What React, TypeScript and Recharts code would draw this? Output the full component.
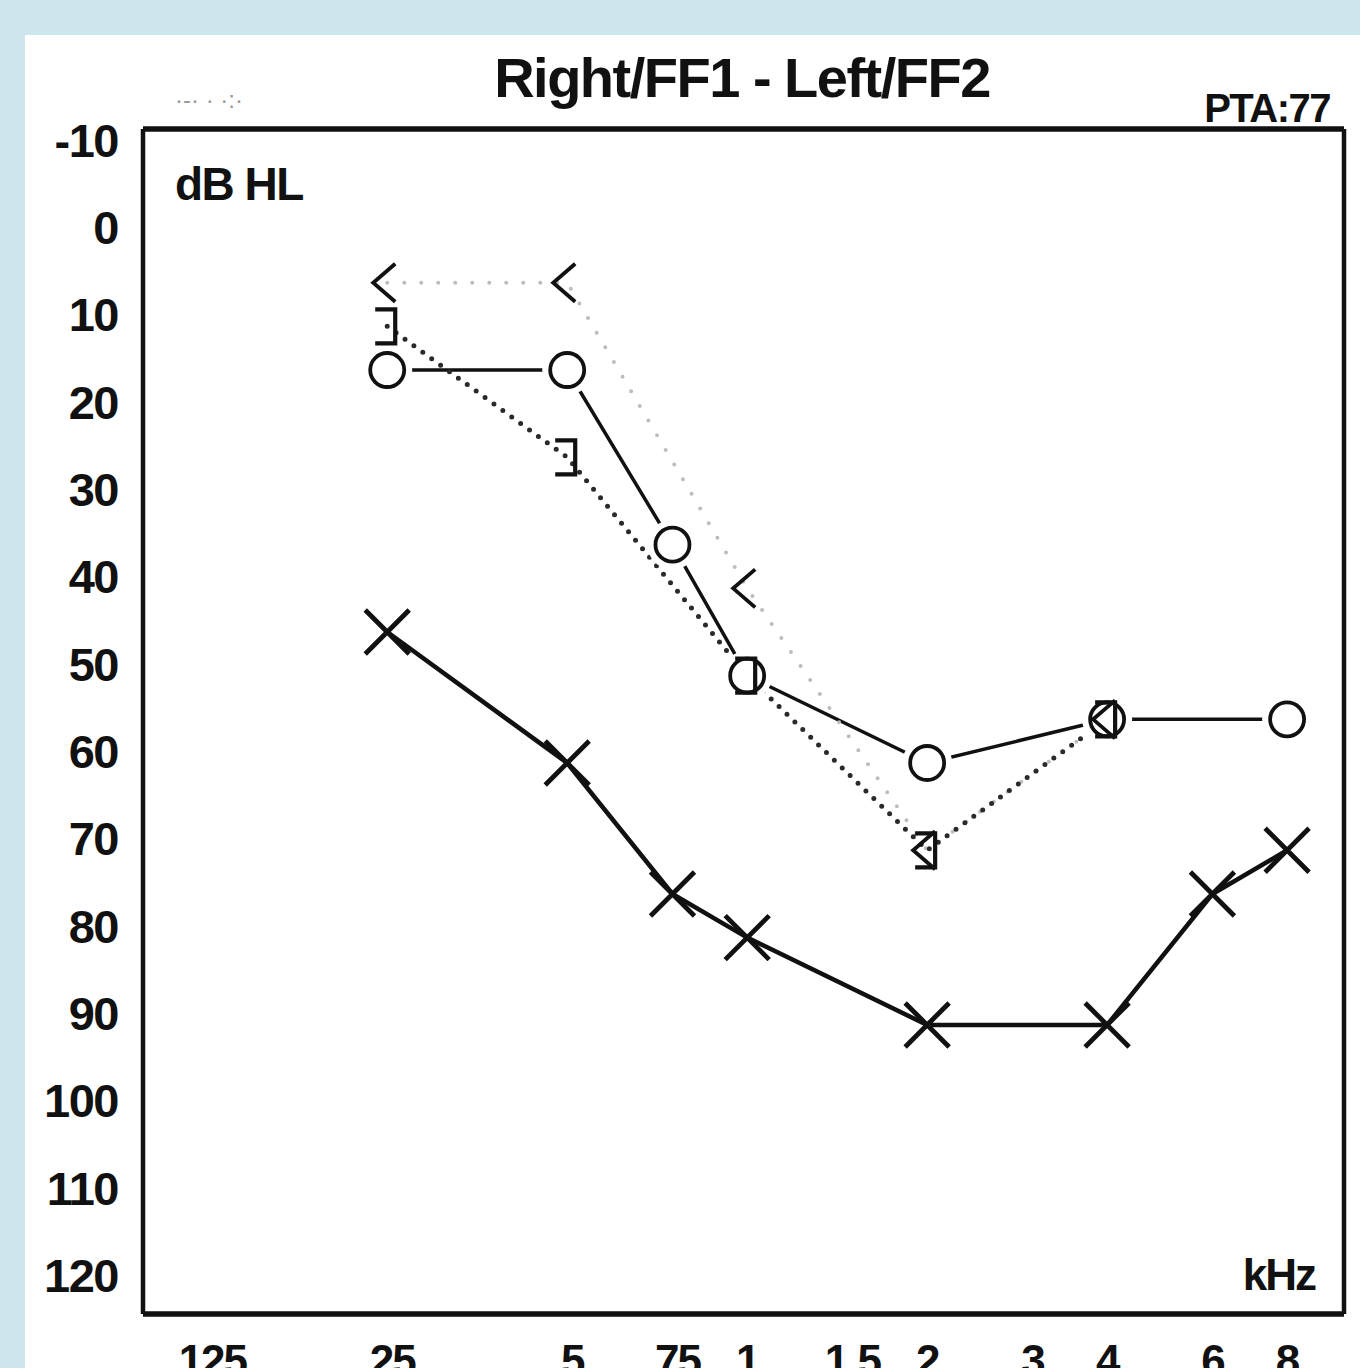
import React from "react";
import { LineChart, Line, XAxis, YAxis, ReferenceLine } from "recharts";

// ---- data ----
const FREQ_TICKS = [0.125, 0.25, 0.5, 0.75, 1, 1.5, 2, 3, 4, 6, 8];
const FREQ_LABELS = [".125", ".25", ".5", ".75", "1", "1.5", "2", "3", "4", "6", "8"];
const DB_TICKS = [-10, 0, 10, 20, 30, 40, 50, 60, 70, 80, 90, 100, 110, 120];

const rightAirFreq = [0.25, 0.5, 0.75, 1, 2, 4, 8];
const rightAirDb = [15, 15, 35, 50, 60, 55, 55];

const leftAirFreq = [0.25, 0.5, 0.75, 1, 2, 4, 6, 8];
const leftAirDb = [45, 60, 75, 80, 90, 90, 75, 70];

const boneMaskedFreq = [0.25, 0.5, 1, 2, 4];
const boneMaskedDb = [10, 25, 50, 70, 55];

const boneUnmaskedFreq = [0.25, 0.5, 1, 2, 4];
const boneUnmaskedDb = [5, 5, 40, 70, 55];

const TITLE = "Right/FF1 - Left/FF2";
const PTA = "PTA:77";
const Y_UNIT = "dB HL";
const X_UNIT = "kHz";

const X_DOMAIN = [0.0976, 9.96];
const Y_DOMAIN = [-12.6, 123.1];

const toRows = (f: number[], v: number[]) => f.map((x, i) => ({ f: x, db: v[i] }));

const rightAir = toRows(rightAirFreq, rightAirDb);
const leftAir = toRows(leftAirFreq, leftAirDb);
const boneMasked = toRows(boneMaskedFreq, boneMaskedDb);
const boneUnmasked = toRows(boneUnmaskedFreq, boneUnmaskedDb);

const FONT = "'Liberation Sans', Arial, Helvetica, sans-serif";
const INK = "#111";

// ---- markers ----
const CircleDot = (p: any) => {
  const { cx, cy, index } = p;
  if (cx == null || cy == null) return <g key={`c${index}`} />;
  return (
    <g key={`c${index}`}>
      <circle cx={cx} cy={cy} r={25} fill="#fff" />
      <circle cx={cx} cy={cy} r={17} fill="#fff" stroke={INK} strokeWidth={3.8} />
    </g>
  );
};

const CrossDot = (p: any) => {
  const { cx, cy, index } = p;
  if (cx == null || cy == null) return <g key={`x${index}`} />;
  const s = 22;
  return (
    <path
      key={`x${index}`}
      d={`M${cx - s},${cy - s}L${cx + s},${cy + s}M${cx - s},${cy + s}L${cx + s},${cy - s}`}
      stroke={INK}
      strokeWidth={4.8}
      fill="none"
    />
  );
};

const BracketDot = (p: any) => {
  const { cx, cy, index } = p;
  if (cx == null || cy == null) return <g key={`b${index}`} />;
  return (
    <path
      key={`b${index}`}
      d={`M${cx - 12},${cy - 17}H${cx + 8}V${cy + 17}H${cx - 12}`}
      stroke={INK}
      strokeWidth={4.2}
      fill="none"
    />
  );
};

const LessDot = (p: any) => {
  const { cx, cy, index } = p;
  if (cx == null || cy == null) return <g key={`l${index}`} />;
  return (
    <path
      key={`l${index}`}
      d={`M${cx + 8},${cy - 19}L${cx - 14},${cy}L${cx + 8},${cy + 19}`}
      stroke={INK}
      strokeWidth={3.8}
      fill="none"
    />
  );
};

// ---- ticks ----
const YTick = (p: any) => {
  const { x, y, payload } = p;
  return (
    <text
      x={x}
      y={y + 5}
      textAnchor="end"
      fontFamily={FONT}
      fontWeight="bold"
      fontSize={47}
      letterSpacing={-1.5}
      fill={INK}
    >
      {payload.value}
    </text>
  );
};

const XTick = (p: any) => {
  const { x, y, payload } = p;
  const i = FREQ_TICKS.indexOf(payload.value);
  return (
    <text
      x={x}
      y={y + 62}
      textAnchor="middle"
      fontFamily={FONT}
      fontWeight="bold"
      fontSize={44}
      letterSpacing={-2}
      fill={INK}
    >
      {i >= 0 ? FREQ_LABELS[i] : payload.value}
    </text>
  );
};

export default function App() {
  return (
    <div
      style={{
        position: "absolute",
        left: 0,
        top: 0,
        width: 1360,
        height: 1368,
        background: "#cde5ec",
        overflow: "hidden",
      }}
    >
      <div
        style={{
          position: "absolute",
          left: 25,
          top: 35,
          width: 1335,
          height: 1333,
          background: "#ffffff",
        }}
      />
      <div style={{ position: "absolute", left: 0, top: 0 }}>
        <LineChart
          width={1360}
          height={1368}
          margin={{ top: 129, right: 16, bottom: 0, left: 0 }}
        >
          <XAxis
            xAxisId="b"
            type="number"
            dataKey="f"
            scale="log"
            domain={X_DOMAIN}
            allowDataOverflow
            ticks={FREQ_TICKS}
            interval={0}
            height={54}
            tickSize={0}
            tickMargin={0}
            tickLine={false}
            axisLine={{ stroke: INK, strokeWidth: 5.5 }}
            tick={<XTick />}
          />
          <YAxis
            yAxisId="l"
            type="number"
            dataKey="db"
            reversed
            domain={Y_DOMAIN}
            allowDataOverflow
            ticks={DB_TICKS}
            interval={0}
            width={143}
            tickSize={0}
            tickMargin={25}
            tickLine={false}
            axisLine={{ stroke: INK, strokeWidth: 4.5 }}
            tick={<YTick />}
          />
          <ReferenceLine
            xAxisId="b"
            yAxisId="l"
            y={Y_DOMAIN[0]}
            stroke={INK}
            strokeWidth={5.5}
            ifOverflow="visible"
          />
          <ReferenceLine
            xAxisId="b"
            yAxisId="l"
            x={X_DOMAIN[1]}
            stroke={INK}
            strokeWidth={4.5}
            ifOverflow="visible"
          />

          <Line
            xAxisId="b"
            yAxisId="l"
            data={rightAir}
            dataKey="db"
            stroke={INK}
            strokeWidth={3.5}
            dot={CircleDot}
            activeDot={false}
            isAnimationActive={false}
            type="linear"
          />
          <Line
            xAxisId="b"
            yAxisId="l"
            data={leftAir}
            dataKey="db"
            stroke={INK}
            strokeWidth={4.5}
            dot={CrossDot}
            activeDot={false}
            isAnimationActive={false}
            type="linear"
          />
          <Line
            xAxisId="b"
            yAxisId="l"
            data={boneUnmasked}
            dataKey="db"
            stroke="#bdbdbd"
            strokeWidth={4}
            strokeDasharray="0 17"
            strokeLinecap="round"
            dot={LessDot}
            activeDot={false}
            isAnimationActive={false}
            type="linear"
          />
          <Line
            xAxisId="b"
            yAxisId="l"
            data={boneMasked}
            dataKey="db"
            stroke="#2a2a2a"
            strokeWidth={5}
            strokeDasharray="0 11"
            strokeLinecap="round"
            dot={BracketDot}
            activeDot={false}
            isAnimationActive={false}
            type="linear"
          />

          <text
            x={742}
            y={97}
            textAnchor="middle"
            fontFamily={FONT}
            fontWeight="bold"
            fontSize={56}
            letterSpacing={-1.5}
            fill={INK}
          >
            {TITLE}
          </text>
          <text
            x={1330}
            y={122}
            textAnchor="end"
            fontFamily={FONT}
            fontWeight="bold"
            fontSize={40}
            letterSpacing={-1.5}
            fill={INK}
          >
            {PTA}
          </text>
          <text
            x={175}
            y={200}
            fontFamily={FONT}
            fontWeight="bold"
            fontSize={46}
            letterSpacing={-1.5}
            fill={INK}
          >
            {Y_UNIT}
          </text>
          <text
            x={1315}
            y={1290}
            textAnchor="end"
            fontFamily={FONT}
            fontWeight="bold"
            fontSize={44}
            letterSpacing={-2}
            fill={INK}
          >
            {X_UNIT}
          </text>
          <text
            x={175}
            y={108}
            fontFamily={FONT}
            fontSize={24}
            fill="#9a9a9a"
          >
            {"·-· ·  ·:·"}
          </text>
        </LineChart>
      </div>
    </div>
  );
}
